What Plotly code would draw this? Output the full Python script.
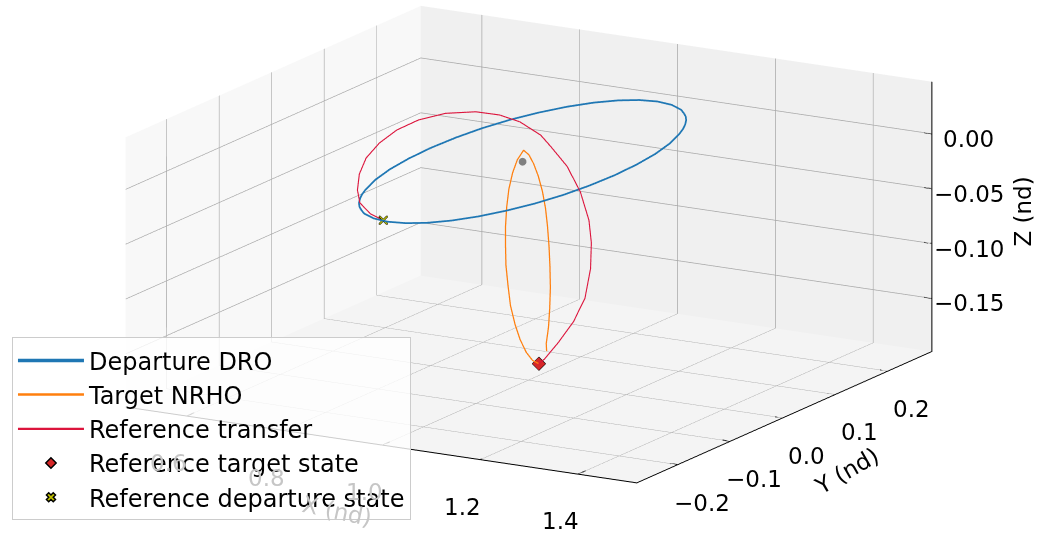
import plotly.graph_objects as go

# Departure DRO (planar, z = 0), sampled around the orbit
dro_x = [1.176, 1.173, 1.165, 1.151, 1.132, 1.121, 1.109, 1.096, 1.082, 1.067,
         1.052, 1.021, 0.988, 0.955, 0.924, 0.894, 0.867, 0.844, 0.825, 0.811,
         0.803, 0.800, 0.803, 0.811, 0.825, 0.844, 0.855, 0.867, 0.880, 0.894,
         0.909, 0.924, 0.955, 0.988, 1.021, 1.052, 1.082, 1.109, 1.132, 1.151,
         1.165, 1.173, 1.176]
dro_y = [0.000, 0.045, 0.088, 0.129, 0.165, 0.182, 0.197, 0.211, 0.223, 0.233,
         0.242, 0.253, 0.257, 0.253, 0.242, 0.223, 0.197, 0.165, 0.129, 0.088,
         0.045, 0.000, -0.045, -0.088, -0.129, -0.165, -0.182, -0.197, -0.211, -0.223,
         -0.233, -0.242, -0.253, -0.257, -0.253, -0.242, -0.223, -0.197, -0.165, -0.129,
         -0.088, -0.045, 0.000]
dro_z = [0.0] * len(dro_x)

# Target NRHO, starting at apolune
nrho_x = [1.021, 1.019, 1.016, 1.012, 1.008, 1.004, 1.001, 0.998, 0.996, 0.994,
          0.992, 0.990, 0.989, 0.989, 0.990, 0.989, 0.989, 0.990, 0.992, 0.994,
          0.996, 0.998, 1.001, 1.004, 1.008, 1.012, 1.016, 1.020]
nrho_y = [0.000, -0.010, -0.019, -0.027, -0.033, -0.038, -0.040, -0.041, -0.040, -0.038,
          -0.034, -0.028, -0.020, -0.011, 0.000, 0.011, 0.020, 0.028, 0.034, 0.038,
          0.040, 0.041, 0.040, 0.038, 0.033, 0.027, 0.019, 0.016]
nrho_z = [-0.182, -0.177, -0.168, -0.155, -0.140, -0.122, -0.103, -0.085, -0.067, -0.050,
          -0.034, -0.019, -0.006, 0.004, 0.0105, 0.004, -0.006, -0.019, -0.034, -0.050,
          -0.067, -0.085, -0.103, -0.122, -0.140, -0.155, -0.168, -0.174]

# Reference transfer from the DRO departure state to the NRHO target state
xfer_x = [0.976, 0.942, 0.899, 0.863, 0.826, 0.796, 0.780, 0.777, 0.787, 0.813,
          0.858, 0.906, 0.957, 1.023, 1.063, 1.125, 1.180, 1.216, 1.222, 1.215,
          1.195, 1.164, 1.107, 1.052, 1.021]
xfer_y = [-0.254, -0.247, -0.227, -0.198, -0.160, -0.119, -0.079, -0.043, -0.011, 0.016,
          0.032, 0.033, 0.024, 0.002, -0.016, -0.043, -0.069, -0.086, -0.087, -0.082,
          -0.074, -0.067, -0.043, -0.018, 0.000]
xfer_z = [0.000, 0.002, 0.005, 0.008, 0.012, 0.016, 0.020, 0.024, 0.027, 0.029,
          0.030, 0.030, 0.029, 0.026, 0.022, 0.014, 0.000, -0.020, -0.040, -0.065,
          -0.095, -0.120, -0.148, -0.172, -0.182]

target_state = [1.021, 0.000, -0.182]
departure_state = [0.976, -0.254, 0.000]
moon = [0.98785, 0.0, 0.0]

x_ticks = [0.6, 0.8, 1.0, 1.2, 1.4]
y_ticks = [-0.2, -0.1, 0.0, 0.1, 0.2]
z_ticks = [-0.15, -0.10, -0.05, 0.00]

x_range = [0.475, 1.52]
y_range = [-0.278, 0.284]
z_range = [-0.1984, 0.0475]

FONT = "DejaVu Sans"
# text sitting behind the translucent legend box shows through faded
FADED = "#c6c6c6"


def label_font(color="black"):
    return dict(family=FONT, size=23, color=color)


def fmt(v, nd):
    s = f"{v:.{nd}f}"
    return s.replace("-", "\u2212")


fig = go.Figure()
fig.add_trace(go.Scatter3d(x=dro_x, y=dro_y, z=dro_z, mode="lines",
                           line=dict(color="#1f77b4", width=3.5),
                           name="Departure DRO"))
fig.add_trace(go.Scatter3d(x=nrho_x, y=nrho_y, z=nrho_z, mode="lines",
                           line=dict(color="#ff7f0e", width=2.5),
                           name="Target NRHO"))
fig.add_trace(go.Scatter3d(x=xfer_x, y=xfer_y, z=xfer_z, mode="lines",
                           line=dict(color="crimson", width=2.2),
                           name="Reference transfer"))
fig.add_trace(go.Scatter3d(x=[moon[0]], y=[moon[1]], z=[moon[2]], mode="markers",
                           marker=dict(color="gray", size=4.5),
                           showlegend=False))
fig.add_trace(go.Scatter3d(x=[target_state[0]], y=[target_state[1]], z=[target_state[2]],
                           mode="markers",
                           marker=dict(symbol="diamond", color="#d62728", size=4.5,
                                       line=dict(color="black", width=2)),
                           showlegend=False))
fig.add_trace(go.Scatter3d(x=[departure_state[0]], y=[departure_state[1]], z=[departure_state[2]],
                           mode="markers",
                           marker=dict(symbol="x", color="#bfbf00", size=2,
                                       line=dict(color="black", width=2)),
                           showlegend=False))

# legend keys for the two state markers
fig.add_trace(go.Scatter3d(x=[None], y=[None], z=[None], mode="markers",
                           marker=dict(symbol="diamond", color="#d62728", size=8,
                                       line=dict(color="black", width=1.5)),
                           name="Reference target state"))
fig.add_trace(go.Scatter3d(x=[None], y=[None], z=[None], mode="markers",
                           marker=dict(symbol="x", color="#bfbf00", size=8,
                                       line=dict(color="black", width=1.5)),
                           name="Reference departure state"))

# Axis lines and tick marks on the box edges used for labelling
x0, x1 = x_range
y0, y1 = y_range
z0, z1 = z_range
axis_line = dict(color="black", width=2)


def seg(xs, ys, zs):
    fig.add_trace(go.Scatter3d(x=xs, y=ys, z=zs, mode="lines", line=axis_line,
                               showlegend=False, hoverinfo="skip"))


seg([x1, x1], [y1, y1], [z0, z1])
for t in z_ticks:
    seg([x1 - 0.016, x1], [y1, y1], [t, t])
for t in x_ticks:
    seg([t, t], [y0, y0 + 0.014], [z0, z0])
for t in y_ticks:
    seg([x1 - 0.016, x1], [t, t], [z0, z0])

annotations = []
for t in x_ticks:
    annotations.append(dict(x=t, y=y0, z=z0, text=fmt(t, 1), showarrow=False,
                            xanchor="center", yanchor="middle",
                            xshift=-18, yshift=-47,
                            font=label_font(FADED if t <= 1.0 else "black")))
for t in y_ticks:
    annotations.append(dict(x=x1, y=t, z=z0, text=fmt(t, 1), showarrow=False,
                            xanchor="center", yanchor="middle",
                            xshift=24, yshift=-38, font=label_font()))
for t in z_ticks:
    annotations.append(dict(x=x1, y=y1, z=t, text=fmt(t, 2), showarrow=False,
                            xanchor="center", yanchor="middle",
                            xshift=37, yshift=-5, font=label_font()))
annotations.append(dict(x=(x0 + x1) / 2, y=y0, z=z0, text="X (nd)", showarrow=False,
                        textangle=12, xanchor="center", yanchor="middle",
                        xshift=-44, yshift=-66, font=label_font(FADED)))
annotations.append(dict(x=x1, y=(y0 + y1) / 2, z=z0, text="Y (nd)", showarrow=False,
                        textangle=-30, xanchor="center", yanchor="middle",
                        xshift=62, yshift=-54, font=label_font()))
annotations.append(dict(x=x1, y=y1, z=(z0 + z1) / 2, text="Z (nd)", showarrow=False,
                        textangle=-90, xanchor="center", yanchor="middle",
                        xshift=91, yshift=5, font=label_font()))


def axis(rng, ticks, bg):
    return dict(
        title=dict(text=""),
        range=rng, autorange=False,
        tickvals=ticks, showticklabels=False, ticks="",
        showbackground=True, backgroundcolor=bg,
        gridcolor="#a8a8a8", gridwidth=1.5,
        showline=False, zeroline=False, showspikes=False,
    )


xaxis = axis(x_range, x_ticks, "rgb(248,248,248)")
yaxis = axis(y_range, y_ticks, "rgb(240,240,240)")
zaxis = axis(z_range, z_ticks, "rgb(244,244,244)")
xaxis.update(showline=True, linecolor="black", linewidth=2)
yaxis.update(showline=True, linecolor="black", linewidth=2)

fig.update_layout(
    width=1041, height=542,
    margin=dict(l=0, r=0, t=0, b=0),
    paper_bgcolor="white",
    font=dict(family=FONT, size=22, color="black"),
    scene=dict(
        domain=dict(x=[0, 1], y=[0, 1]),
        xaxis=xaxis, yaxis=yaxis, zaxis=zaxis,
        aspectmode="manual",
        aspectratio=dict(x=2.178, y=2.178, z=1.03),
        camera=dict(
            eye=dict(x=1.1941, y=-2.1295, z=0.5478),
            center=dict(x=-0.0139, y=-0.0372, z=-0.0950),
            up=dict(x=0, y=0, z=1),
            projection=dict(type="orthographic"),
        ),
        annotations=annotations,
    ),
    legend=dict(
        x=0.0115, y=0.04, xanchor="left", yanchor="bottom",
        bgcolor="rgba(255,255,255,0.8)", bordercolor="#cccccc", borderwidth=1,
        font=dict(family=FONT, size=24, color="black"),
        tracegroupgap=2, itemwidth=66,
    ),
)

fig.write_html("out.html")
